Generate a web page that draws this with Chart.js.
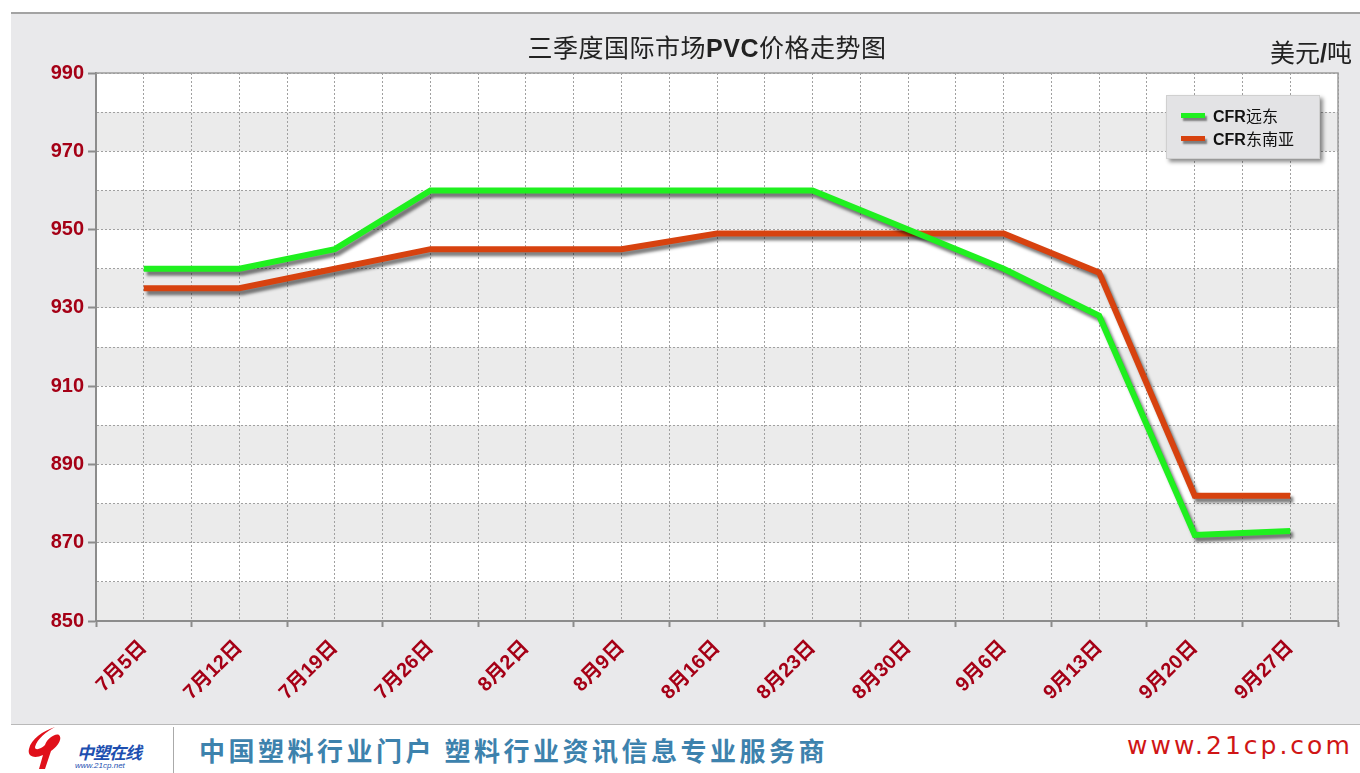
<!DOCTYPE html>
<html>
<head>
<meta charset="utf-8">
<script src="https://cdn.jsdelivr.net/npm/chart.js@4/dist/chart.umd.min.js"></script>
<style>
  body { margin: 0; background: #fff; width: 1360px; height: 773px; overflow: hidden; position: relative;
         font-family: Arial, "Liberation Sans", "Noto Sans CJK SC", sans-serif; }
  #topline { position: absolute; left: 11px; top: 12px; width: 1349px; height: 2px; background: #a3a3a3; }
  #panel { position: absolute; left: 11px; top: 14px; width: 1349px; height: 710px; background: #e9e9eb;
           border-bottom: 1px solid #b9b9b9; }
  #panel canvas { position: absolute; left: 0; top: 0; }
  #title { position: absolute; left: 407px; top: 28px; width: 600px; text-align: center; font-size: 25px; color: #222;
           font-family: "Noto Sans CJK SC", sans-serif; letter-spacing: 0.5px; }
  #title b { font-family: Arial, "Liberation Sans", sans-serif; font-weight: bold; }
  #unit { position: absolute; left: 1270px; top: 33px; font-size: 25px; color: #222; font-family: "Noto Sans CJK SC", sans-serif; }
  #legend { position: absolute; left: 1166px; top: 95px; width: 152px; height: 62px; background: #e3e3e5;
            border: 1px solid #d0d0d0; box-shadow: 3px 3px 4px rgba(0,0,0,0.45); }
  .item { position: absolute; left: 14px; font-size: 16px; color: #111; font-family: "Noto Sans CJK SC", sans-serif; }
  .item b { font-family: Arial, "Liberation Sans", sans-serif; }
  .swatch { display: inline-block; width: 24px; height: 5px; margin-right: 8px; vertical-align: middle;
            box-shadow: 2px 3px 2px rgba(0,0,0,0.45); position: relative; top: -2px; }
  #banner { position: absolute; left: 11px; top: 725px; width: 1349px; height: 48px; background: #fff; }
  #sep { position: absolute; left: 162px; top: 2px; width: 1px; height: 46px; background: #aaa; }
  #logo1 { position: absolute; left: 14px; top: 0px; width: 40px; height: 46px; }
  #logo2 { position: absolute; left: 66px; top: 14px; font-size: 17px; font-weight: bold; font-style: italic; color: #1d4fb0;
           font-family: "Noto Sans CJK SC", sans-serif; letter-spacing: -1px; }
  #logo3 { position: absolute; left: 64px; top: 36px; font-size: 8px; font-style: italic; color: #1d4fb0; }
  #slogan { position: absolute; left: 188px; top: 6px; font-size: 26px; font-weight: bold; color: #3d82ad; letter-spacing: 3.5px;
            font-family: "Noto Sans CJK SC", sans-serif; }
  #site { position: absolute; left: 1116px; top: 6px; font-size: 25px; color: #d01515; letter-spacing: 3px;
          font-family: "DejaVu Sans", sans-serif; }
</style>
</head>
<body>
<div id="topline"></div>
<div id="panel"><canvas id="Chart" width="1349" height="710"></canvas></div>
<div id="title">三季度国际市场<b>PVC</b>价格走势图</div>
<div id="unit">美元<b style="font-family:Arial,'Liberation Sans',sans-serif">/</b>吨</div>
<div id="legend">
  <div class="item" style="top:7px"><span class="swatch" style="background:#1ff01f"></span><b>CFR</b>远东</div>
  <div class="item" style="top:30px"><span class="swatch" style="background:#d7420f"></span><b>CFR</b>东南亚</div>
</div>
<div id="banner">
  <svg id="logo1" viewBox="0 0 40 46">
    <path d="M30 2 C18 6 6 14 4 24 C2 32 10 34 18 30 L14 44 L20 44 L26 26 C32 22 38 14 34 10 C30 8 22 14 20 20 C16 24 10 26 10 22 C12 14 22 6 30 2 Z" fill="#e0101a"/>
  </svg>
  <div id="logo2">中塑在线</div>
  <div id="logo3">www.21cp.net</div>
  <div id="sep"></div>
  <div id="slogan">中国塑料行业门户 塑料行业资讯信息专业服务商</div>
  <div id="site">www.21cp.com</div>
</div>
<script>
//categories and series
const dates = ['7月5日','7月12日','7月19日','7月26日','8月2日','8月9日','8月16日','8月23日','8月30日','9月6日','9月13日','9月20日','9月27日']
const farEast = [940, 940, 945, 960, 960, 960, 960, 960, 950, 940, 928, 872, 873]
const southeastAsia = [935, 935, 940, 945, 945, 945, 949, 949, 949, 949, 939, 882, 882]
const yMin = 850
const yMax = 990

const tickRed = '#a50016'
const dotted = '#a0a0a0'

function toPoints(values) {
    return values.map((v, i) => ({x: i, y: v}))
}

//white/gray bands behind the grid
const bands = {
    id: 'bands',
    beforeDraw(chart) {
        const {ctx, chartArea: a, scales: {y}} = chart
        ctx.save()
        ctx.fillStyle = '#ffffff'
        ctx.fillRect(a.left, a.top, a.right - a.left, a.bottom - a.top)
        ctx.fillStyle = '#ebebeb'
        for (let v = yMin; v < yMax; v += 20) {
            const top = y.getPixelForValue(v + 10)
            const bottom = y.getPixelForValue(v)
            ctx.fillRect(a.left, top, a.right - a.left, bottom - top)
        }
        ctx.restore()
    },
    beforeDatasetsDraw(chart) {
        const {ctx, chartArea: a} = chart
        ctx.save()
        ctx.strokeStyle = '#9c9c9c'
        ctx.lineWidth = 1.5
        ctx.beginPath()
        ctx.moveTo(a.left, a.top)
        ctx.lineTo(a.right, a.top)
        ctx.lineTo(a.right, a.bottom)
        ctx.stroke()
        ctx.restore()
    }
}

//drop shadow under each line
const shadow = {
    id: 'shadow',
    beforeDatasetDraw(chart) {
        const ctx = chart.ctx
        ctx.save()
        ctx.shadowColor = 'rgba(0,0,0,0.5)'
        ctx.shadowOffsetX = 3
        ctx.shadowOffsetY = 4
        ctx.shadowBlur = 3
    },
    afterDatasetDraw(chart) {
        chart.ctx.restore()
    }
}

const ctx = document.getElementById('Chart').getContext('2d')
const myChart = new Chart(ctx, {
    type: 'line',
    data: {
        datasets: [{
            label: 'CFR远东',
            data: toPoints(farEast),
            borderColor: '#1ff01f',
            borderWidth: 6,
            pointRadius: 0,
            tension: 0
        }, {
            label: 'CFR东南亚',
            data: toPoints(southeastAsia),
            borderColor: '#d7420f',
            borderWidth: 6,
            pointRadius: 0,
            tension: 0
        }]
    },
    options: {
        responsive: false,
        animation: false,
        layout: {padding: {top: 59, right: 22, left: 0, bottom: 0}},
        plugins: {legend: {display: false}, tooltip: {enabled: false}},
        scales: {
            x: {
                type: 'linear',
                min: -0.5,
                max: dates.length - 0.5,
                afterFit: (s) => { s.height = 103; s.paddingRight = 0; s.paddingLeft = 0 },
                afterBuildTicks: (s) => {
                    const t = []
                    for (let v = -0.5; v <= dates.length - 0.5; v += 0.5) t.push({value: v})
                    s.ticks = t
                },
                border: {display: true, color: '#8c8c8c', width: 2, dash: [2, 2]},
                grid: {
                    color: dotted,
                    lineWidth: 1,
                    tickLength: 6,
                    tickBorderDash: [],
                    tickWidth: 2,
                    tickColor: (c) => (c.tick && Number.isInteger(c.tick.value)) ? 'rgba(0,0,0,0)' : '#8c8c8c'
                },
                ticks: {
                    autoSkip: false,
                    minRotation: 45,
                    maxRotation: 45,
                    padding: 9,
                    color: tickRed,
                    font: {size: 20, weight: 'bold', family: 'Arial, "Liberation Sans", "Noto Sans CJK SC", sans-serif'},
                    callback: (v) => Number.isInteger(v) ? dates[v] : ''
                }
            },
            y: {
                min: yMin,
                max: yMax,
                afterFit: (s) => { s.width = 85 },
                afterBuildTicks: (s) => {
                    const t = []
                    for (let v = yMin; v <= yMax; v += 10) t.push({value: v})
                    s.ticks = t
                },
                border: {display: true, color: '#8c8c8c', width: 2, dash: [2, 2]},
                grid: {
                    color: dotted,
                    lineWidth: 1,
                    tickLength: 8,
                    tickBorderDash: [],
                    tickWidth: 2,
                    tickColor: (c) => (c.tick && (c.tick.value - yMin) % 20 === 0) ? '#8c8c8c' : 'rgba(0,0,0,0)'
                },
                ticks: {
                    padding: 4,
                    color: tickRed,
                    font: {size: 20, weight: 'bold', family: 'Arial, "Liberation Sans", sans-serif'},
                    callback: (v) => (v - yMin) % 20 === 0 ? v : ''
                }
            }
        }
    },
    plugins: [bands, shadow]
})
</script>
</body>
</html>
